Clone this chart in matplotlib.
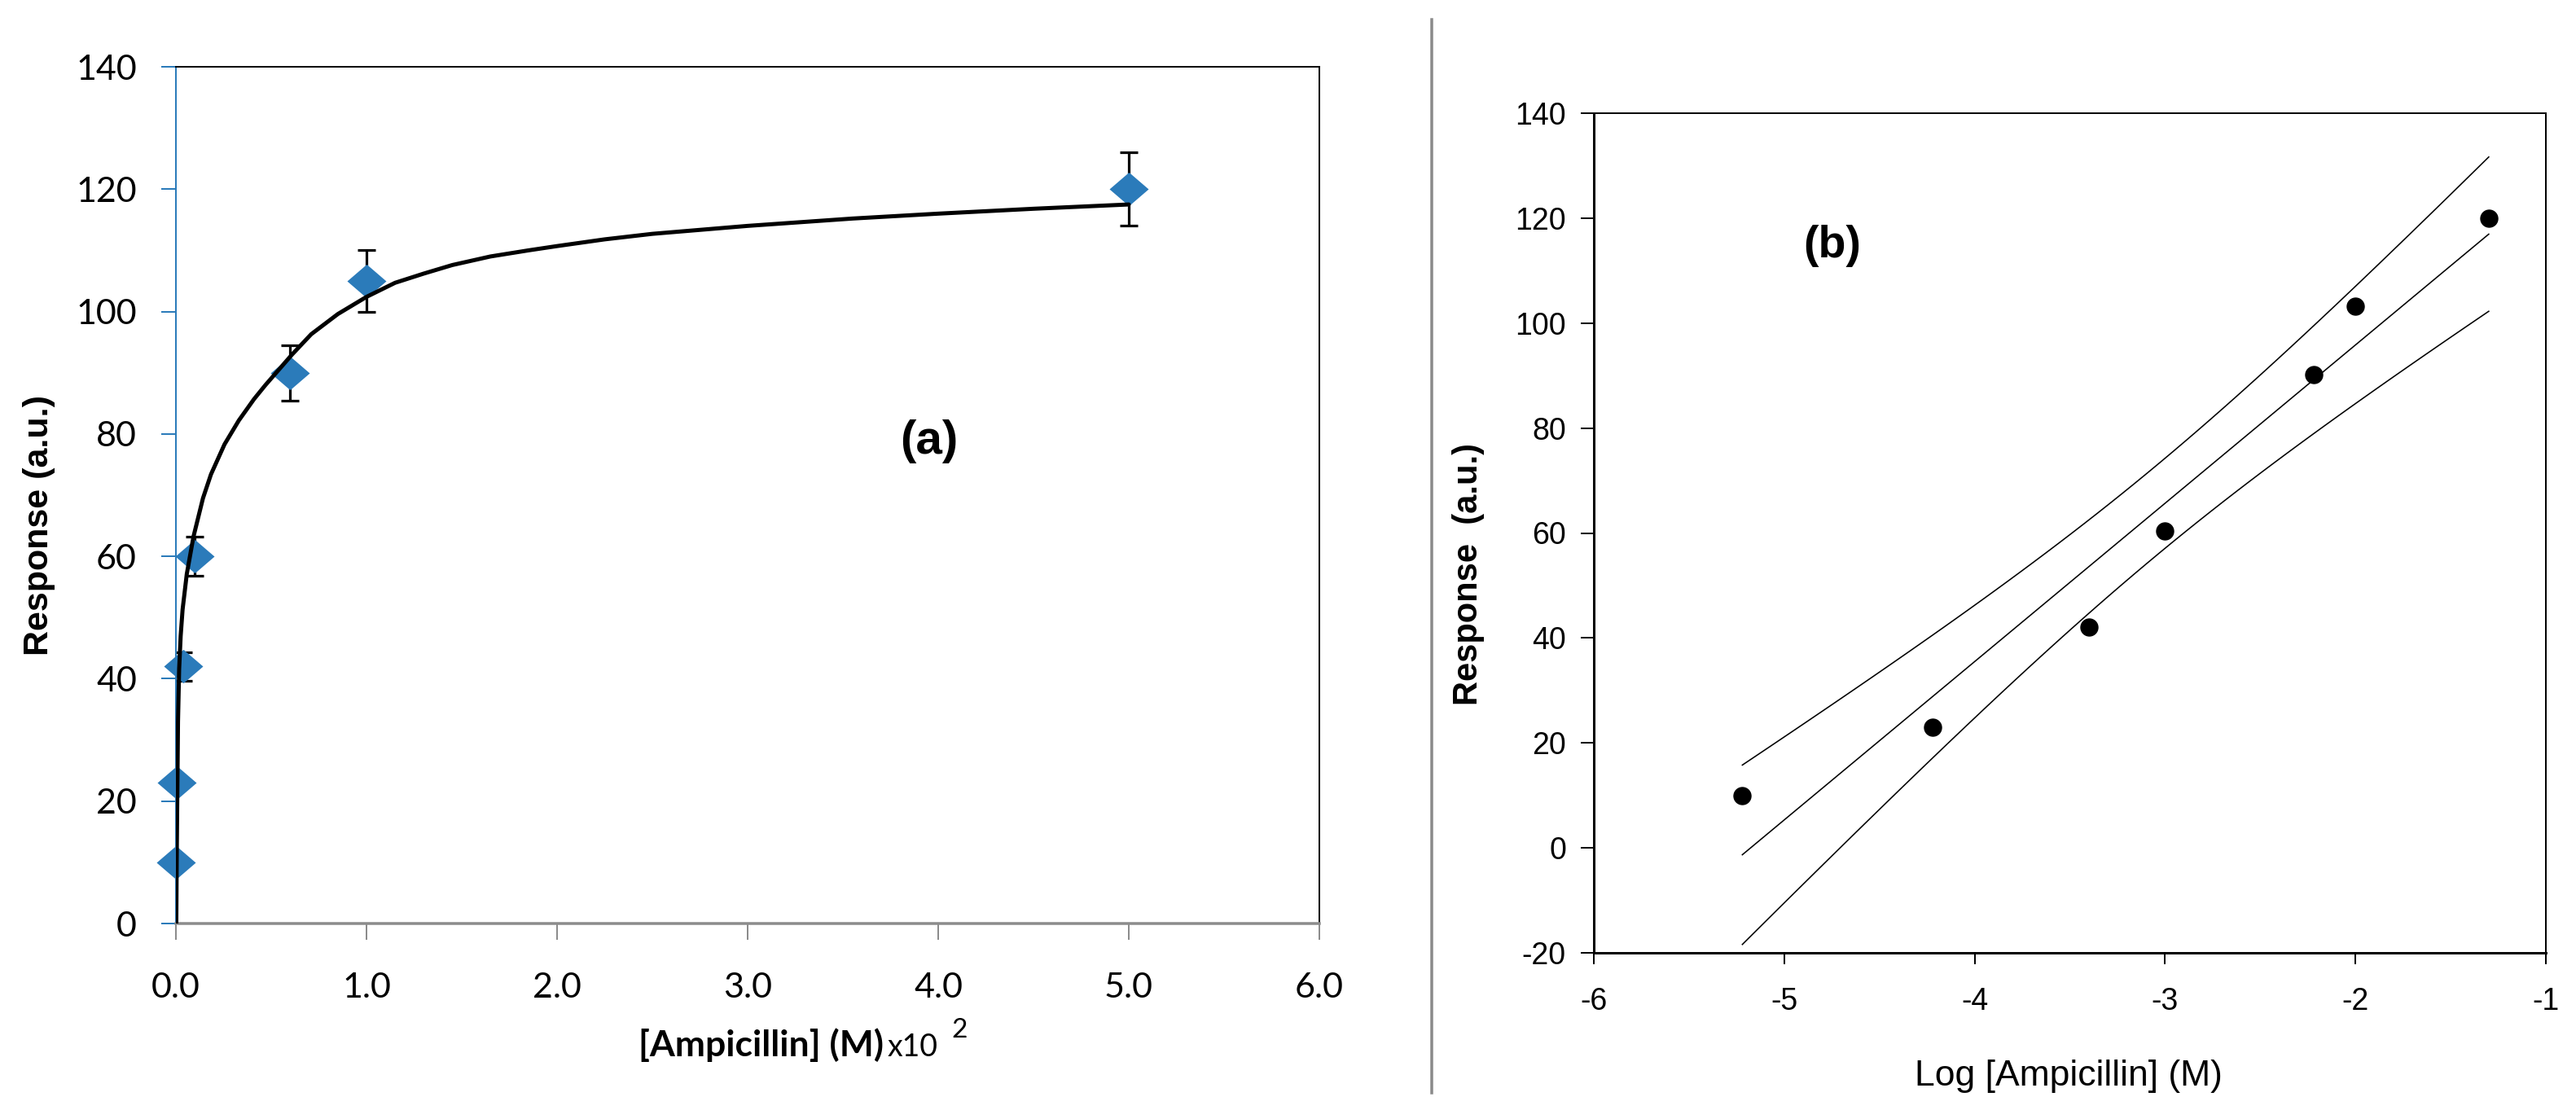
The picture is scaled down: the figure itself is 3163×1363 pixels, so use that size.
import numpy as np
import matplotlib
matplotlib.use("Agg")
import matplotlib.pyplot as plt
from matplotlib.path import Path

plt.rcParams['axes.unicode_minus'] = False

# ---------------- data ----------------
# Panel (a): concentration x10^2 (M) vs response
conc_a = [0.0006, 0.006, 0.04, 0.1, 0.6, 1.0, 5.0]
resp_a = [10, 23, 42, 60, 90, 105, 120]
err_a = [0, 0, 2.3, 3.2, 4.5, 5.0, 6.0]

# fitted curve of panel (a)
curve_x = [0.002, 0.004, 0.007, 0.011, 0.017, 0.025, 0.035, 0.057, 0.092, 0.142,
           0.184, 0.255, 0.33, 0.41, 0.47, 0.61, 0.71, 0.85, 1.0, 1.15, 1.3,
           1.45, 1.65, 1.85, 2.0, 2.25, 2.5, 3.0, 3.55, 4.0, 4.5, 5.0]
curve_y = [0, 10, 20, 33, 41.6, 47, 51.3, 57.1, 63.2, 69.5,
           73.4, 78.3, 82.2, 85.7, 88, 93, 96.3, 99.6, 102.4, 104.7, 106.2,
           107.6, 109.0, 110.0, 110.7, 111.8, 112.7, 114.0, 115.2, 116.0, 116.8, 117.5]

# Panel (b): log concentration vs response
logc_b = [-5.22, -4.22, -3.40, -3.00, -2.22, -2.00, -1.30]
resp_b = [10, 23, 42, 60.4, 90.2, 103.2, 120]

xticks_a = [0, 1, 2, 3, 4, 5, 6]
yticks_a = [0, 20, 40, 60, 80, 100, 120, 140]
xticks_b = [-6, -5, -4, -3, -2, -1]
yticks_b = [-20, 0, 20, 40, 60, 80, 100, 120, 140]

# ---------------- figure ----------------
W, H = 3163, 1363
DPI = 100
fig = plt.figure(figsize=(W / DPI, H / DPI), dpi=DPI)


def fx(px):
    return px / W


def fy(py):
    return 1 - py / H


def pt(px):
    return px * 72.0 / DPI


# ---------- panel (a) ----------
axL, axR, axT, axB = 216, 1620, 82, 1134
ax1 = fig.add_axes([fx(axL), fy(axB), fx(axR - axL), (axB - axT) / H])
blue = '#2B7BBA'

ax1.errorbar(conc_a, resp_a, yerr=err_a, fmt='none', ecolor='black',
             elinewidth=pt(3.2), capsize=pt(11.5), capthick=pt(3.2), zorder=2)
diamond = Path([(-1, 0), (0, 0.86), (1, 0), (0, -0.86), (-1, 0)],
               [Path.MOVETO, Path.LINETO, Path.LINETO, Path.LINETO, Path.CLOSEPOLY])
ax1.plot(conc_a, resp_a, linestyle='none', marker=diamond, markersize=pt(48),
         color=blue, markeredgewidth=0, zorder=3, clip_on=False)
ax1.plot(curve_x, curve_y, color='black', linewidth=pt(5), zorder=4,
         solid_capstyle='round', solid_joinstyle='round')

ax1.set_xlim(0, 6)
ax1.set_ylim(0, 140)
ax1.set_xticks(xticks_a)
ax1.set_xticklabels([f"{v:.1f}" for v in xticks_a])
ax1.set_yticks(yticks_a)
ax1.set_yticklabels([str(v) for v in yticks_a])

for lab in ax1.get_xticklabels() + ax1.get_yticklabels():
    lab.set_family('Lato')
    lab.set_fontsize(31)

ax1.spines['left'].set_color(blue)
ax1.spines['left'].set_linewidth(pt(2))
ax1.spines['bottom'].set_color('#8C8C8C')
ax1.spines['bottom'].set_linewidth(pt(3.5))
ax1.spines['top'].set_color('black')
ax1.spines['top'].set_linewidth(pt(2))
ax1.spines['right'].set_color('black')
ax1.spines['right'].set_linewidth(pt(2))
ax1.tick_params(axis='y', direction='out', length=pt(18), width=pt(2),
                color=blue, pad=pt(30))
ax1.tick_params(axis='x', direction='out', length=pt(20), width=pt(2),
                color='#8C8C8C', pad=pt(40))

ax1.text(3.95, 78.8, '(a)', fontsize=42, fontweight='bold',
         family='Liberation Sans', ha='center', va='center')

fig.text(fx(48), fy(645), 'Response (a.u.)', rotation=90, fontsize=31,
         fontweight='bold', family='Liberation Sans', ha='center', va='center')
fig.text(fx(1085), fy(1297), '[Ampicillin] (M)', fontsize=32, fontweight='bold',
         family='Lato', ha='right', va='baseline')
fig.text(fx(1090), fy(1297), 'x10', fontsize=27, family='Lato',
         ha='left', va='baseline')
fig.text(fx(1168), fy(1274), '2', fontsize=24, family='Lato',
         ha='left', va='baseline')

# separator
fig.add_artist(plt.Line2D([fx(1758), fx(1758)], [fy(24), fy(1342)],
                          color='#8A8A8A', linewidth=pt(3.5)))

# ---------- panel (b) ----------
bxL, bxR, bxT, bxB = 1957, 3126, 139, 1170
ax2 = fig.add_axes([fx(bxL), fy(bxB), fx(bxR - bxL), (bxB - bxT) / H])

xb = np.array(logc_b)
yb = np.array(resp_b)
n = len(xb)
slope, intercept = np.polyfit(xb, yb, 1)
resid = yb - (slope * xb + intercept)
s = np.sqrt(np.sum(resid ** 2) / (n - 2))
sxx = np.sum((xb - xb.mean()) ** 2)
t_val = 2.571
xs = np.linspace(xb.min(), xb.max(), 60)
fit = slope * xs + intercept
half = t_val * s * np.sqrt(1.0 / n + (xs - xb.mean()) ** 2 / sxx)
for ys in (fit, fit + half, fit - half):
    ax2.plot(xs, ys, color='black', linewidth=pt(1.6), zorder=2)
ax2.plot(xb, yb, linestyle='none', marker='o', markersize=pt(21),
         color='black', zorder=3)

ax2.set_xlim(-6, -1)
ax2.set_ylim(-20, 140)
ax2.set_xticks(xticks_b)
ax2.set_xticklabels([str(v) for v in xticks_b])
ax2.set_yticks(yticks_b)
ax2.set_yticklabels([str(v) for v in yticks_b])
for lab in ax2.get_xticklabels() + ax2.get_yticklabels():
    lab.set_family('Liberation Sans')
    lab.set_fontsize(27)
for side in ['left', 'bottom']:
    ax2.spines[side].set_linewidth(pt(3))
for side in ['top', 'right']:
    ax2.spines[side].set_linewidth(pt(2))
ax2.tick_params(axis='y', direction='out', length=pt(16), width=pt(2), pad=pt(18))
ax2.tick_params(axis='x', direction='out', length=pt(14), width=pt(2), pad=pt(28))

ax2.text(-4.75, 114.7, '(b)', fontsize=40, fontweight='bold',
         family='Liberation Sans', ha='center', va='center')

fig.text(fx(1803), fy(705), 'Response  (a.u.)', rotation=90, fontsize=30,
         fontweight='bold', family='Liberation Sans', ha='center', va='center')
fig.text(fx(2540), fy(1322), 'Log [Ampicillin] (M)', fontsize=32,
         family='Liberation Sans', ha='center', va='center')

fig.savefig('out.png', dpi=DPI)
